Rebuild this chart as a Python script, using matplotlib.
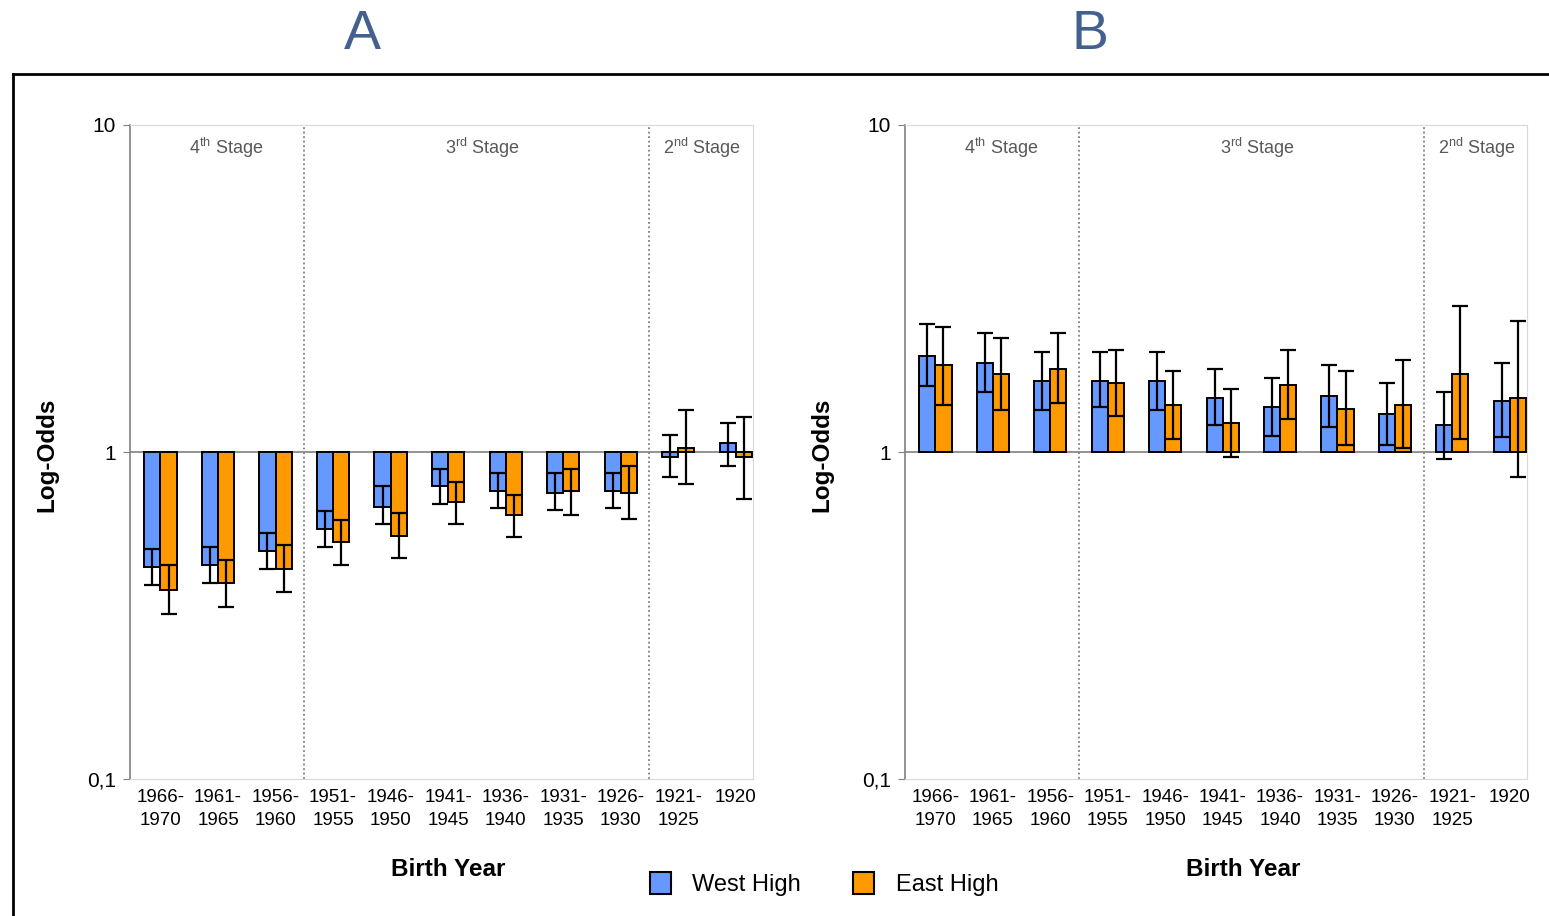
import numpy as np
import matplotlib.pyplot as plt
from matplotlib.patches import Patch
from matplotlib.lines import Line2D

plt.rcParams['font.family'] = ['Liberation Sans', 'DejaVu Sans']
plt.rcParams['mathtext.fontset'] = 'custom'
plt.rcParams['mathtext.rm'] = 'Liberation Sans'

# 数据
cohorts = ['1966-\n1970', '1961-\n1965', '1956-\n1960', '1951-\n1955', '1946-\n1950',
           '1941-\n1945', '1936-\n1940', '1931-\n1935', '1926-\n1930', '1921-\n1925', '1920']
stages = ['4$^{\\mathrm{th}}$ Stage', '3$^{\\mathrm{rd}}$ Stage', '2$^{\\mathrm{nd}}$ Stage']
series_names = ['West High', 'East High']

west_A = [0.446, 0.452, 0.497, 0.581, 0.681, 0.785, 0.762, 0.75, 0.762, 0.967, 1.067]
west_A_lo = [0.393, 0.398, 0.438, 0.513, 0.602, 0.692, 0.673, 0.663, 0.673, 0.839, 0.906]
west_A_hi = [0.506, 0.513, 0.564, 0.661, 0.785, 0.89, 0.863, 0.863, 0.863, 1.13, 1.224]
east_A = [0.379, 0.398, 0.438, 0.53, 0.555, 0.702, 0.64, 0.762, 0.75, 1.032, 0.967]
east_A_lo = [0.32, 0.335, 0.374, 0.452, 0.475, 0.602, 0.549, 0.642, 0.623, 0.80, 0.717]
east_A_hi = [0.452, 0.467, 0.521, 0.621, 0.649, 0.812, 0.738, 0.89, 0.905, 1.344, 1.282]

west_B = [1.963, 1.878, 1.654, 1.654, 1.654, 1.46, 1.371, 1.481, 1.305, 1.208, 1.434]
west_B_lo = [1.597, 1.528, 1.342, 1.368, 1.342, 1.208, 1.118, 1.191, 1.049, 0.953, 1.113]
west_B_hi = [2.46, 2.304, 2.029, 2.029, 2.029, 1.788, 1.682, 1.848, 1.627, 1.528, 1.878]
east_B = [1.842, 1.73, 1.792, 1.624, 1.388, 1.225, 1.605, 1.349, 1.39, 1.734, 1.46]
east_B_lo = [1.388, 1.346, 1.41, 1.284, 1.097, 0.967, 1.264, 1.049, 1.032, 1.097, 0.84]
east_B_hi = [2.415, 2.228, 2.304, 2.058, 1.763, 1.556, 2.058, 1.766, 1.909, 2.79, 2.52]

blue = '#6699FF'
orange = '#FF9900'


def panel(ax, w, wlo, whi, e, elo, ehi):
    x = np.arange(len(cohorts))
    ax.set_yscale('log')
    ax.axhline(1, color='#808080', lw=1.2, zorder=1)
    for off, v, lo, hi, c in [(-0.14, w, wlo, whi, blue), (0.14, e, elo, ehi, orange)]:
        v = np.array(v)
        ax.bar(x + off, v - 1, bottom=1, width=0.28, color=c,
               edgecolor='black', linewidth=1.4, zorder=2)
        yerr = [v - np.array(lo), np.array(hi) - v]
        ax.errorbar(x + off, v, yerr=yerr, fmt='none', ecolor='black',
                    elinewidth=1.6, capsize=5.5, capthick=1.6, zorder=3)
    # 阶段分隔线
    for d in [2.5, 8.5]:
        ax.plot([d, d], [0.1, 10], color='#808080', ls=(0, (1, 1.5)), lw=1.3, zorder=1)
    for sx, s in zip([1.14, 5.6, 9.42], stages):
        ax.text(sx, 8.5, s, ha='center', va='center', fontsize=13, color='#595959')
    ax.set_ylim(0.1, 10)
    ax.set_xlim(-0.53, 10.3)
    ax.set_yticks([0.1, 1, 10])
    ax.set_yticklabels(['0,1', '1', '10'])
    ax.minorticks_off()
    ax.set_xticks(x)
    ax.set_xticklabels(cohorts, linespacing=1.5)
    ax.tick_params(axis='x', length=0, pad=7, labelsize=13.5)
    ax.tick_params(axis='y', length=5, color='#808080', labelsize=15, pad=5)
    for s in ['top', 'right', 'bottom']:
        ax.spines[s].set_color('#D9D9D9')
        ax.spines[s].set_linewidth(0.8)
    ax.spines['left'].set_color('#808080')
    ax.spines['left'].set_linewidth(1.2)


fig = plt.figure(figsize=(15.49, 9.16), dpi=100)
axA = fig.add_axes([130 / 1549, 137 / 916, 623 / 1549, 654 / 916])
axB = fig.add_axes([905 / 1549, 137 / 916, 622 / 1549, 654 / 916])
panel(axA, west_A, west_A_lo, west_A_hi, east_A, east_A_lo, east_A_hi)
panel(axB, west_B, west_B_lo, west_B_hi, east_B, east_B_lo, east_B_hi)

# 标题和轴标签
fig.text(362 / 1549, 1 - 35 / 916, 'A', ha='center', va='center', fontsize=40, color='#44608F')
fig.text(1090 / 1549, 1 - 35 / 916, 'B', ha='center', va='center', fontsize=40, color='#44608F')
for lx, bx in [(47, 448), (822, 1243)]:
    fig.text(lx / 1549, 1 - 455 / 916, 'Log-Odds', rotation=90, ha='center', va='center',
             fontsize=17.5, fontweight='bold')
    fig.text(bx / 1549, 1 - 870 / 916, 'Birth Year', ha='center', va='center',
             fontsize=17.5, fontweight='bold')

# 外框
fig.add_artist(Line2D([13 / 1549, 1], [1 - 74 / 916, 1 - 74 / 916], color='black', lw=2))
fig.add_artist(Line2D([13 / 1549, 13 / 1549], [0, 1 - 74 / 916], color='black', lw=2))

handles = [Patch(facecolor=blue, edgecolor='black', linewidth=1.5),
           Patch(facecolor=orange, edgecolor='black', linewidth=1.5)]
fig.legend(handles, series_names, loc='center', bbox_to_anchor=(824 / 1549, 1 - 884 / 916),
           ncol=2, frameon=False, fontsize=17, handlelength=0.9, handleheight=1.1,
           handletextpad=0.9, columnspacing=2.2)

fig.savefig('out.png', dpi=100)
